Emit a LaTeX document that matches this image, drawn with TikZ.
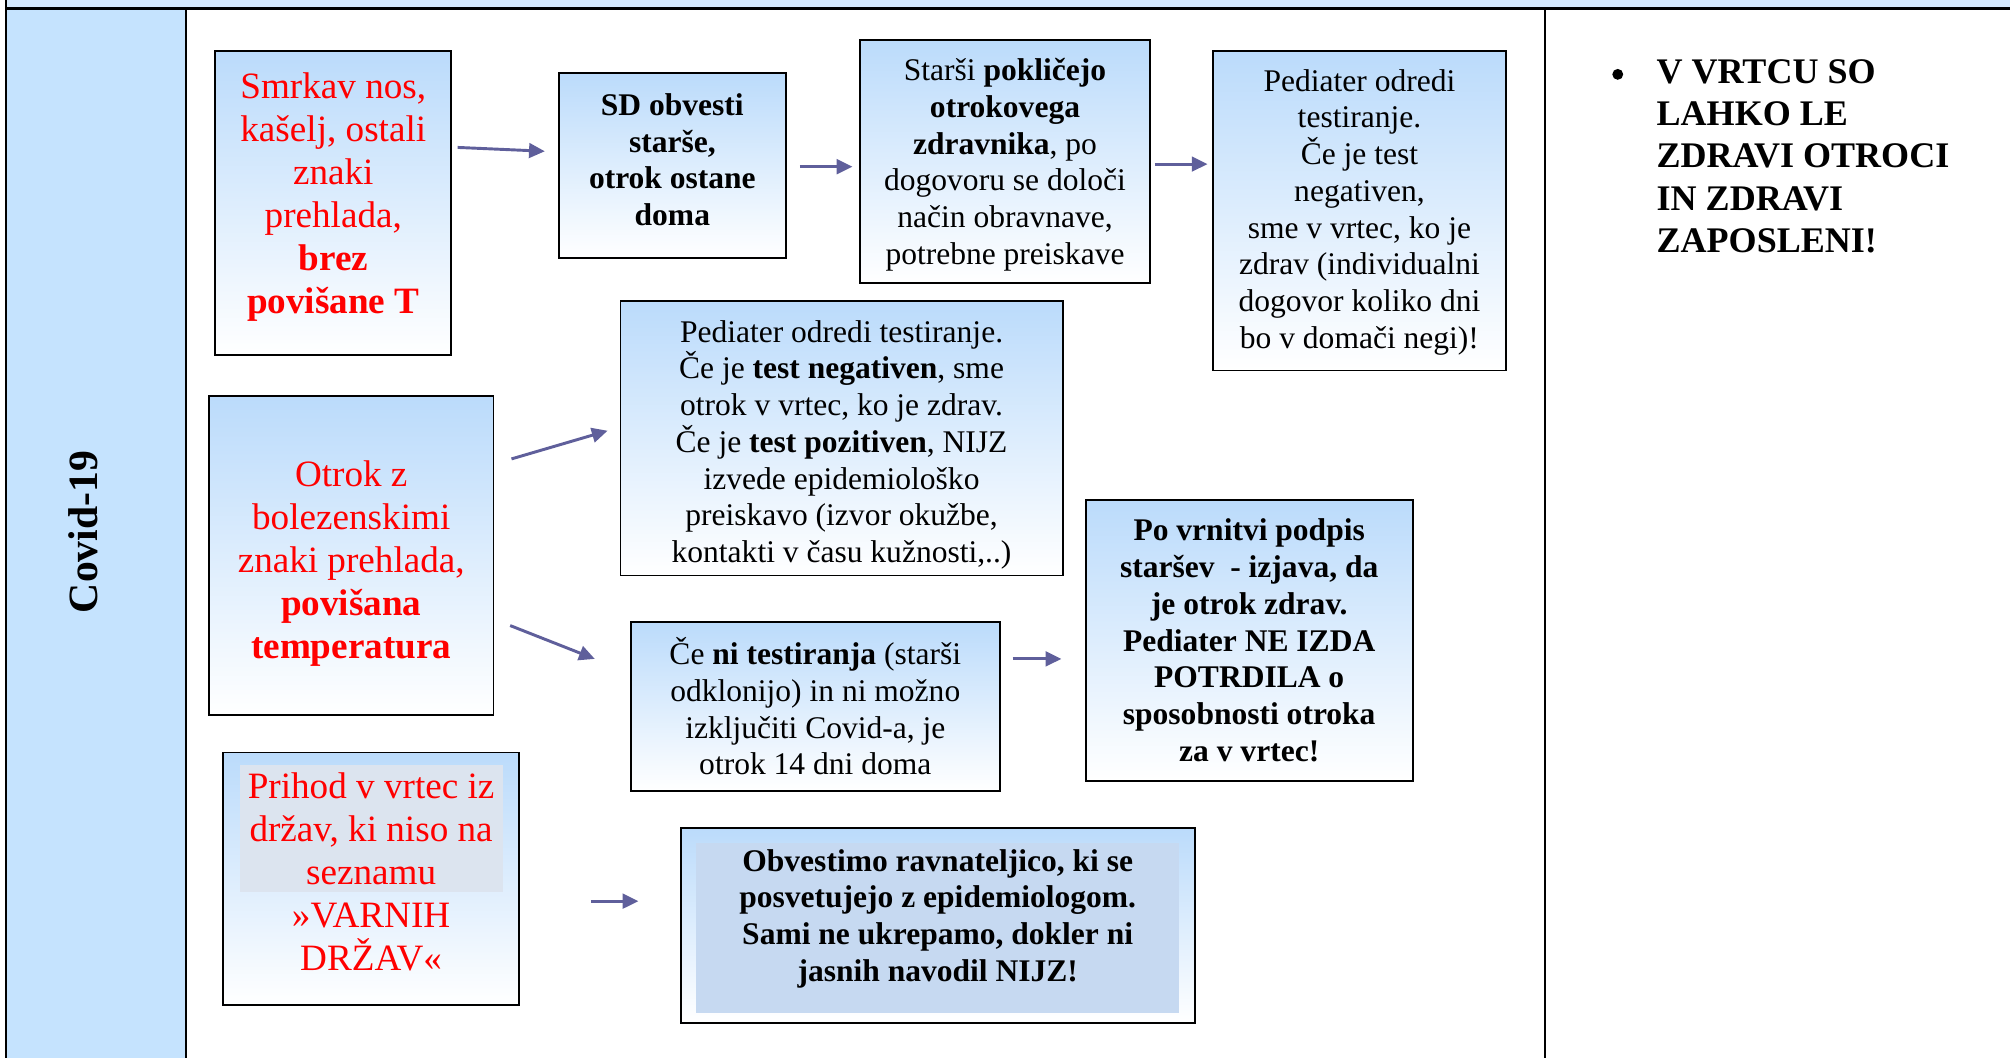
\documentclass[tikz,border=0pt]{standalone}
\usepackage{fontspec}
\setmainfont{Liberation Serif}
\usetikzlibrary{fit,arrows.meta}
\definecolor{topbar}{HTML}{D5E9FD}
\definecolor{leftcol}{HTML}{C5E3FE}
\definecolor{boxblue}{HTML}{BBDBFB}
\definecolor{arrowc}{HTML}{5F5F9B}
\definecolor{innergray}{HTML}{DCE4EF}
\definecolor{innerblue}{HTML}{C6D9F1}
\tikzset{
  box/.style={draw=black, line width=0.8pt, top color=boxblue, bottom color=white, inner sep=0pt},
  innerbox/.style={draw=none, inner sep=0pt},
  redtxt/.style={text=red, align=center, font=\fontsize{16.5}{19.1}\selectfont, inner sep=0pt},
  blktxt/.style={text=black, align=center, font=\fontsize{14}{16.3}\selectfont, inner sep=0pt},
  bldtxt/.style={text=black, align=center, font=\fontsize{14}{16.3}\selectfont\bfseries, inner sep=0pt},
  arr/.style={draw=arrowc, line width=1.3pt, -{Triangle[length=7pt,width=6.5pt]}},
  tabrule/.style={draw=black, line width=0.9pt},
}
\begin{document}
\begin{tikzpicture}[x=0.02cm, y=-0.02cm]
\useasboundingbox (0,0) rectangle (1568,825);
% table background
\fill[topbar] (5,0) rectangle (1568,6.5);
\fill[leftcol] (5,6.5) rectangle (145,825);
\draw[tabrule] (5,0) -- (5,825);
\draw[tabrule] (145,6.5) -- (145,825);
\draw[tabrule] (1205,6.5) -- (1205,825);
\draw[black, line width=1.4pt] (4,6.5) -- (1568,6.5);
\node[rotate=90, font=\fontsize{18.5}{20}\selectfont\bfseries, inner sep=0pt] (covid) at (65,415) {Covid-19};

% boxes
\node[box, fit={(168,40) (352,277)}] (b1) {};
\node[redtxt] (t1) at (260,154) {Smrkav nos,\\kašelj, ostali\\znaki\\prehlada,\\\textbf{brez}\\\textbf{povišane T}};

\node[box, fit={(436,57) (613,201)}] (b2) {};
\node[bldtxt] (t2) at (524.5,124.5) {SD obvesti\\starše,\\otrok ostane\\doma};

\node[box, fit={(671,31) (897,221)}] (b3) {};
\node[blktxt] (t3) at (784,128.5) {Starši \textbf{pokličejo}\\\textbf{otrokovega}\\\textbf{zdravnika}, po\\dogovoru se določi\\način obravnave,\\potrebne preiskave};

\node[box, fit={(946,40) (1175,289)}] (b4) {};
\node[blktxt] (t4) at (1060.5,165.5) {Pediater odredi\\testiranje.\\Če je test\\negativen,\\sme v vrtec, ko je\\zdrav (individualni\\dogovor koliko dni\\bo v domači negi)!};

\node[box, fit={(484,235) (829,449)}] (b5) {};
\node[blktxt] (t5) at (656.5,347) {Pediater odredi testiranje.\\Če je \textbf{test negativen}, sme\\otrok v vrtec, ko je zdrav.\\Če je \textbf{test pozitiven}, NIJZ\\izvede epidemiološko\\preiskavo (izvor okužbe,\\kontakti v času kužnosti,..)};

\node[box, fit={(163,309) (385,558)}] (b6) {};
\node[redtxt] (t6) at (274,439.5) {Otrok z\\bolezenskimi\\znaki prehlada,\\\textbf{povišana}\\\textbf{temperatura}};

\node[box, fit={(492,485) (780,617)}] (b7) {};
\node[blktxt] (t7) at (636,551) {Če \textbf{ni testiranja} (starši\\odklonijo) in ni možno\\izključiti Covid-a, je\\otrok 14 dni doma};

\node[box, fit={(847,390) (1102,609)}] (b8) {};
\node[bldtxt] (t8) at (974.5,499.5) {Po vrnitvi podpis\\staršev\ \ - izjava, da\\je otrok zdrav.\\Pediater NE IZDA\\POTRDILA o\\sposobnosti otroka\\za v vrtec!};

\node[box, fit={(174,587) (405,784)}] (b9) {};
\node[innerbox, fill=innergray, fit={(187,597) (392,696)}] (i9) {};
\node[redtxt] (t9) at (289.5,680.5) {Prihod v vrtec iz\\držav, ki niso na\\seznamu\\»VARNIH\\DRŽAV«};

\node[box, fit={(531,646) (932,798)}] (b10) {};
\node[innerbox, fill=innerblue, fit={(543,658) (920,790)}] (i10) {};
\node[bldtxt] (t10) at (731.5,716.5) {Obvestimo ravnateljico, ki se\\posvetujejo z epidemiologom.\\Sami ne ukrepamo, dokler ni\\jasnih navodil NIJZ!};

% arrows
\coordinate (a1s) at (357,115); \coordinate (a1e) at (425,118);
\coordinate (a2s) at (624,130); \coordinate (a2e) at (665,130);
\coordinate (a3s) at (901,128); \coordinate (a3e) at (942,128);
\coordinate (a4s) at (399,358); \coordinate (a4e) at (474,336);
\coordinate (a5s) at (398,488); \coordinate (a5e) at (464,514);
\coordinate (a6s) at (790,514); \coordinate (a6e) at (828,514);
\coordinate (a7s) at (461,703); \coordinate (a7e) at (498,703);
\draw[arr] (a1s) -- (a1e);
\draw[arr] (a2s) -- (a2e);
\draw[arr] (a3s) -- (a3e);
\draw[arr] (a4s) -- (a4e);
\draw[arr] (a5s) -- (a5e);
\draw[arr] (a6s) -- (a6e);
\draw[arr] (a7s) -- (a7e);

% right column
\node[circle, fill=black, inner sep=0pt, minimum size=0.17cm] (bul) at (1262,58) {};
\node[anchor=north west, align=left, font=\fontsize{16}{18.8}\selectfont\bfseries, inner sep=0pt] (rtext) at (1292,46) {V VRTCU SO\\LAHKO LE\\ZDRAVI OTROCI\\IN ZDRAVI\\ZAPOSLENI!};
\end{tikzpicture}
\end{document}
